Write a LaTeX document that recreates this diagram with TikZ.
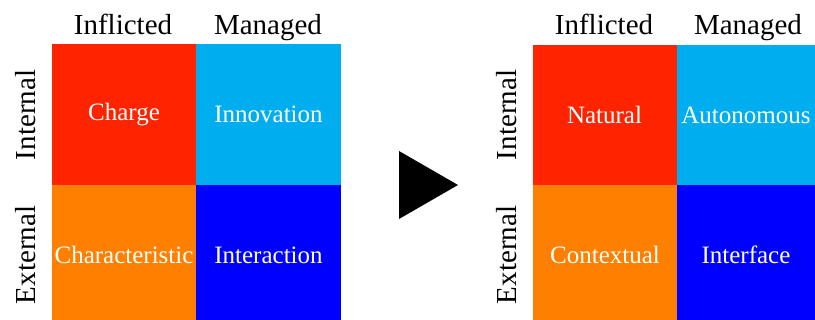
\documentclass[tikz,border=0pt]{standalone}
\usepackage{fontspec}
\setmainfont{Liberation Serif}

\definecolor{chargered}{RGB}{255,36,0}
\definecolor{managedcyan}{RGB}{0,174,239}
\definecolor{extorange}{RGB}{255,128,0}
\definecolor{extblue}{RGB}{0,0,255}

\begin{document}
\begin{tikzpicture}[x=0.5pt,y=-0.5pt,
  cell/.style={inner sep=0pt,minimum width=72pt,text=white,
    font=\fontsize{12.5}{14}\selectfont},
  toprow/.style={cell,minimum height=70.5pt},
  botrow/.style={cell,minimum height=67.5pt,text height=11.5pt,text depth=0pt},
  head/.style={anchor=base,inner sep=0pt,font=\fontsize{14.5}{16}\selectfont},
  side/.style={head,rotate=90}]
\useasboundingbox (0,0) rectangle (815,320);

% left matrix
\node[head] (linf) at (123,35) {Inflicted};
\node[head] (lman) at (268,35) {Managed};
\node[side] (lint) at (35,115) {Internal};
\node[side] (lext) at (35,255) {External};

\node[toprow,fill=chargered] (charge) at (124,114.5) {Charge};
\node[toprow,fill=managedcyan,minimum width=72.5pt] (innov) at (268.5,114.5) {Innovation};
\node[botrow,fill=extorange] (charac) at (124,252.5) {Characteristic};
\node[botrow,fill=extblue,minimum width=72.5pt] (interact) at (268.5,252.5) {Interaction};

% arrow
\fill (399,151) -- (458,185) -- (399,219) -- cycle;

% right matrix
\node[head] (rinf) at (604,35) {Inflicted};
\node[head] (rman) at (748,35) {Managed};
\node[side] (rint) at (516,115) {Internal};
\node[side] (rext) at (516,255) {External};

\node[cell,fill=chargered,minimum height=70pt] (natural) at (604.5,115) {Natural};
\node[cell,fill=managedcyan,minimum height=70pt,minimum width=69pt] (auto) at (746,115) {Autonomous};
\node[botrow,fill=extorange] (context) at (605,252.5) {Contextual};
\node[botrow,fill=extblue,minimum width=69pt] (iface) at (746,252.5) {Interface};

\end{tikzpicture}
\end{document}
